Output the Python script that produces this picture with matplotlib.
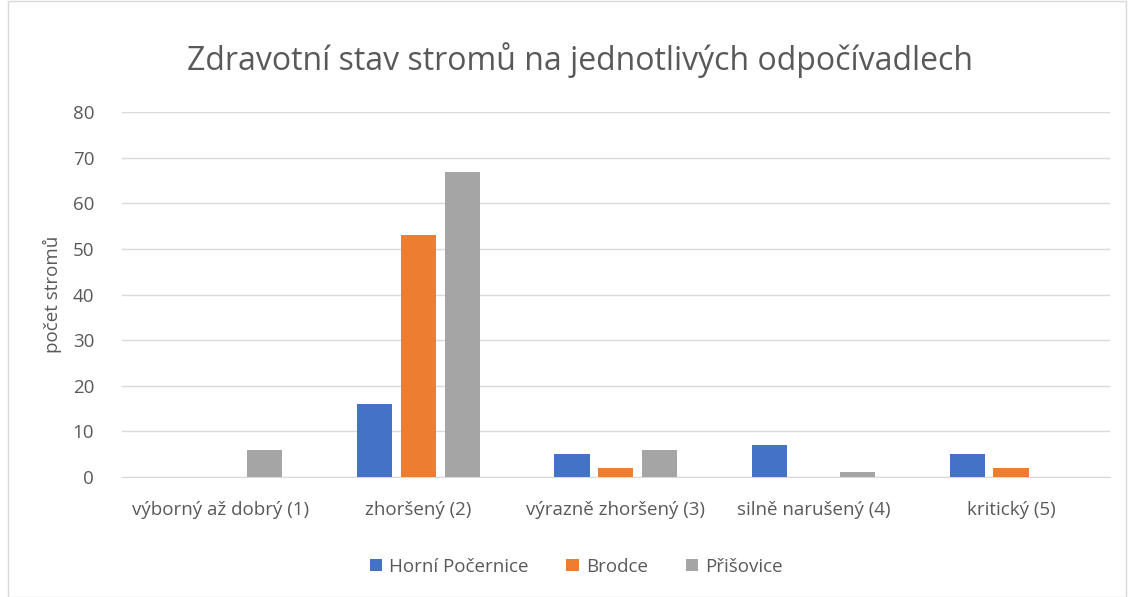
import matplotlib.pyplot as plt
import numpy as np
from matplotlib.patches import Rectangle

plt.rcParams['font.family'] = ['Open Sans', 'DejaVu Sans']

categories = ['výborný až dobrý (1)', 'zhoršený (2)', 'výrazně zhoršený (3)',
              'silně narušený (4)', 'kritický (5)']
horni_pocernice = [0, 16, 5, 7, 5]
brodce = [0, 53, 2, 0, 2]
prisovice = [6, 67, 6, 1, 0]
series_names = ['Horní Počernice', 'Brodce', 'Přišovice']
colors = ['#4472C4', '#ED7D31', '#A5A5A5']
text_color = '#595959'

fig = plt.figure(figsize=(11.29, 5.97), dpi=100)
ax = fig.add_axes([0.108, 0.201, 0.875, 0.611])

x = np.arange(len(categories))
width = 0.178
step = 0.222
for i, (vals, name, c) in enumerate(zip([horni_pocernice, brodce, prisovice], series_names, colors)):
    ax.bar(x + (i - 1) * step, vals, width, color=c, label=name, zorder=3)

ax.set_xlim(-0.5, 4.5)
ax.set_ylim(0, 80)
ax.set_yticks(range(0, 81, 10))
ax.set_xticks(x)
ax.set_xticklabels(categories)
ax.grid(axis='y', color='#d9d9d9', linewidth=1, zorder=0)
for s in ['top', 'right', 'left']:
    ax.spines[s].set_visible(False)
ax.spines['bottom'].set_color('#d9d9d9')
ax.tick_params(axis='both', length=0, colors=text_color, labelsize=13.5)
ax.tick_params(axis='x', pad=17)
ax.tick_params(axis='y', pad=20)

ax.set_ylabel('počet stromů', fontsize=13.5, color=text_color, labelpad=8)
fig.suptitle('Zdravotní stav stromů na jednotlivých odpočívadlech',
             fontsize=23, color=text_color, y=0.93, x=0.514)

ax.legend(loc='upper center', bbox_to_anchor=(0.46, -0.175), ncol=3,
          frameon=False, fontsize=13.5, labelcolor=text_color,
          handlelength=0.65, handleheight=0.65, columnspacing=2.0, handletextpad=0.4)

fig.patches.append(Rectangle((0.007, 0.0), 0.99, 0.998, transform=fig.transFigure,
                             fill=False, edgecolor='#d9d9d9', linewidth=1))

fig.savefig('out.png', dpi=100)
